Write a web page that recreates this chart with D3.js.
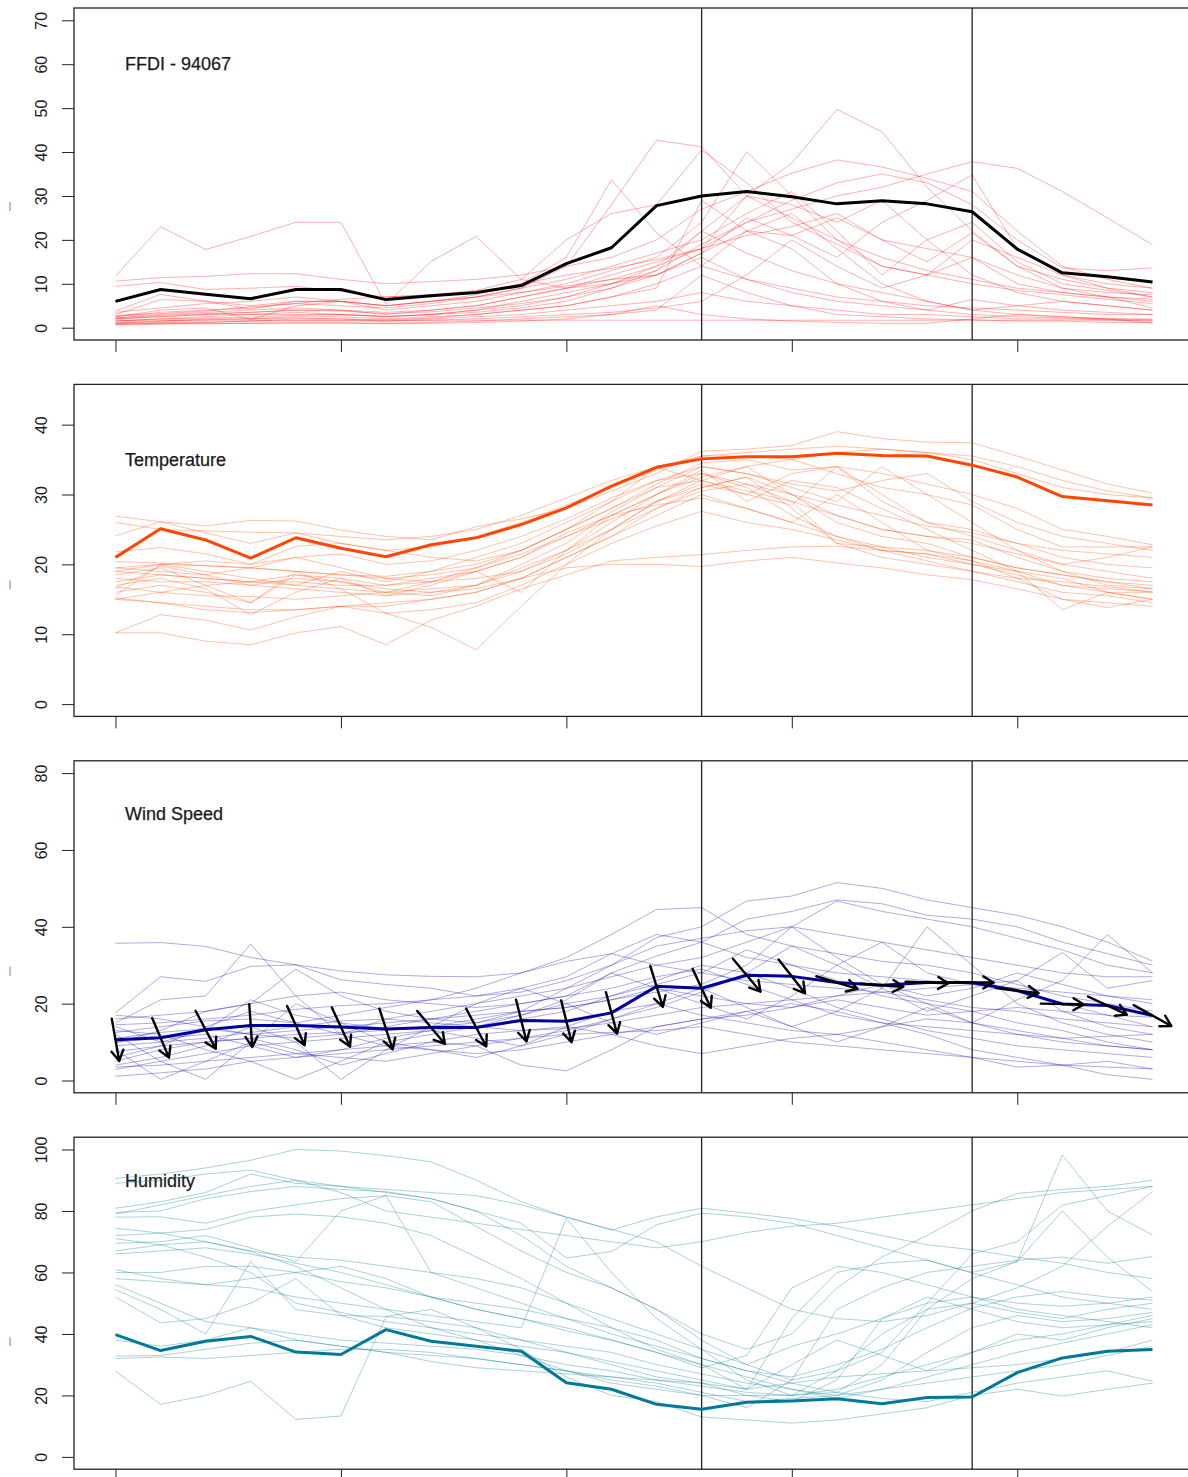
<!DOCTYPE html>
<html><head><meta charset="utf-8">
<script src="https://cdn.jsdelivr.net/npm/d3@7"></script>
<style>
html,body{margin:0;padding:0;background:#fff;}
svg{display:block;font-family:"Liberation Sans",Arial,sans-serif;}
</style></head>
<body><svg id="chart" width="1188" height="1477"></svg>
<script>
// ---------------- DATA ----------------
const steps = [0,1,2,3,4,5,6,7,8,9,10,11,12,13,14,15,16,17,18,19,20,21,22,23];
const xTicks = [0,5,10,15,20];
const markerSteps = [13,19];

const panelTitles = ["FFDI - 94067","Temperature","Wind Speed","Humidity"];
const yLimits = [[0,70],[0,44],[0,80],[0,100]];
const yTickValues = [[0,10,20,30,40,50,60,70],[0,10,20,30,40],[0,20,40,60,80],[0,20,40,60,80,100]];

const ffdiMain = [6.0,8.7,7.6,6.6,8.7,8.7,6.4,7.3,8.0,9.6,14.6,18.2,27.8,30.0,31.0,29.8,28.2,28.9,28.2,26.4,17.9,12.5,11.6,10.4];
const tempMain = [21.0,25.1,23.5,20.9,23.8,22.3,21.1,22.8,23.8,25.7,28.1,31.2,33.9,35.1,35.4,35.4,35.9,35.6,35.5,34.2,32.5,29.7,29.1,28.5];
const windMain = [10.6,11.1,13.2,14.3,14.3,13.9,13.4,13.8,13.8,15.6,15.4,17.6,24.5,24.0,27.4,27.1,25.5,24.8,25.5,25.5,23.4,19.9,19.5,16.9];
const humMain  = [39.8,34.6,37.6,39.2,34.1,33.3,41.4,37.6,36.0,34.4,24.1,22.0,17.1,15.5,17.8,18.2,18.9,17.3,19.3,19.5,27.4,32.2,34.4,34.9];
// wind direction (degrees, direction the wind blows from)
const windDir = [350,337,332,356,336,335,342,320,332,346,346,345,343,335,320,322,287,274,272,270,277,271,295,299];

const ffdiMembers = [
[11.7,23.0,17.8,20.8,24.0,24.0,5.3,15.1,20.8,11.0,9.0,10.0,12.0,17.0,22.0,21.0,25.0,20.0,18.0,16.0,10.0,8.0,7.0,6.0],
[10.6,11.4,11.7,12.3,12.3,11.0,10.0,10.5,11.0,12.0,14.0,16.0,20.0,27.0,31.0,35.2,38.2,36.6,34.0,31.0,22.0,14.0,11.0,9.0],
[9.4,10.3,8.7,9.0,9.4,8.3,7.0,7.5,8.5,11.0,20.0,26.0,28.0,40.5,33.0,24.0,19.0,14.0,12.0,10.0,8.5,7.5,6.5,5.5],
[3.8,7.6,6.0,4.2,6.0,6.0,5.0,6.0,7.0,9.0,14.0,28.0,42.7,41.2,30.0,25.0,20.0,16.0,13.0,11.0,9.0,8.0,7.0,6.5],
[3.0,6.4,6.0,5.0,6.0,6.0,5.0,6.0,7.5,10.0,16.0,33.7,21.6,14.0,11.0,9.0,7.0,6.0,5.0,4.5,4.0,3.5,3.0,3.0],
[2.5,4.0,4.5,1.9,5.0,6.0,4.0,5.0,6.0,8.0,10.0,13.0,16.0,24.0,40.1,30.0,20.0,14.0,12.0,20.0,16.0,12.0,9.0,7.0],
[2.2,3.0,3.5,4.0,4.5,4.0,3.0,4.0,5.0,7.0,9.0,12.0,15.0,18.0,24.0,29.0,33.0,35.0,33.0,28.0,20.0,13.6,13.0,13.6],
[2.0,2.5,3.0,3.0,3.5,3.0,2.5,3.0,4.0,6.0,8.0,10.0,13.0,22.0,30.0,37.5,49.7,44.6,32.0,22.0,14.0,11.0,9.0,8.0],
[1.5,2.0,2.5,3.0,3.0,3.0,2.5,3.0,4.0,5.0,7.0,9.0,13.0,19.0,24.0,27.0,30.0,32.0,35.0,37.8,36.3,31.0,25.0,18.9],
[1.7,1.7,1.7,1.7,1.7,1.7,1.7,1.7,1.7,1.7,1.7,1.7,1.7,1.7,1.7,1.7,1.7,1.7,1.7,1.7,1.7,1.7,1.7,1.7],
[1.0,1.5,2.0,2.0,2.5,2.5,2.0,2.5,3.0,4.0,5.0,7.0,10.0,14.0,22.0,26.0,18.0,10.0,6.0,4.0,3.0,2.5,2.0,2.0],
[0.8,1.0,1.2,1.5,2.0,2.0,1.5,2.0,2.5,3.0,4.0,5.0,6.0,8.0,6.0,5.0,4.0,3.0,3.0,2.5,2.0,2.0,1.8,1.5],
[0.8,1.0,1.0,1.0,1.2,1.2,1.0,1.2,1.5,2.0,2.5,3.0,4.0,12.0,8.0,5.0,3.0,2.5,2.0,1.8,1.5,1.5,1.2,1.2],
[2.5,3.5,4.0,4.5,5.5,5.0,4.5,5.5,7.0,9.0,11.0,14.0,17.0,20.0,26.0,31.0,22.0,12.0,20.0,24.0,15.0,10.0,8.5,7.0],
[2.0,2.5,3.0,3.5,4.0,4.0,3.5,4.0,5.0,7.0,9.0,11.0,12.0,17.0,25.0,21.0,16.0,24.0,29.0,34.8,18.0,12.0,10.0,9.0],
[3.5,4.5,5.5,6.0,7.0,6.0,5.0,6.0,7.0,8.0,9.5,11.0,14.0,22.0,17.0,13.0,10.0,8.0,6.0,4.0,5.0,6.0,5.0,4.0],
[1.2,1.5,1.8,2.0,2.2,2.0,1.8,2.2,3.0,4.0,5.0,7.0,9.0,29.0,22.0,18.0,10.0,6.0,4.0,3.0,2.5,2.2,2.0,1.8],
[1.0,1.2,1.3,1.5,1.6,1.6,1.5,1.7,2.0,2.5,3.0,3.5,4.5,6.0,12.0,20.0,14.0,9.0,12.0,16.0,12.0,9.0,7.0,4.5],
[0.6,0.8,0.9,1.0,1.0,1.0,0.9,1.0,1.2,1.5,2.0,3.0,5.0,3.0,2.0,1.5,1.2,1.0,1.0,2.0,3.0,2.5,2.0,1.0],
[2.8,3.2,3.8,4.8,5.5,6.5,7.0,7.5,8.0,10.0,12.0,13.5,15.5,18.0,21.0,23.0,26.0,20.0,15.0,21.6,14.0,9.0,8.0,7.5],
[1.5,2.0,2.2,2.4,2.8,3.0,2.6,3.0,3.5,4.5,6.0,9.0,12.0,16.0,11.0,8.0,6.0,5.0,4.0,6.4,5.0,4.0,3.5,3.0],
[2.2,2.8,3.2,3.5,4.0,3.8,3.2,3.6,4.5,5.5,7.0,10.0,14.0,18.0,30.0,28.0,24.0,29.0,20.0,12.0,8.0,6.0,5.0,4.0]
];

const tempMembers = [
[26.9,26.1,25.5,26.3,26.2,24.9,24.0,23.5,25.4,26.5,28.0,30.5,33.0,36.2,36.5,37.0,39.0,38.0,37.5,37.4,35.5,33.5,31.5,30.2],
[24.1,26.1,24.5,23.0,24.5,23.0,22.0,22.5,24.0,26.0,28.5,31.0,33.5,35.5,36.0,36.5,36.9,36.5,36.0,35.5,34.0,32.0,30.5,29.5],
[21.8,22.4,21.5,20.0,22.6,23.0,22.0,21.0,20.5,22.0,25.0,28.0,31.5,34.5,35.0,33.5,34.0,33.0,31.5,30.0,28.0,25.0,24.0,22.8],
[20.4,20.2,19.8,19.5,19.0,18.5,18.3,19.0,20.0,22.0,25.0,29.0,33.9,32.0,30.0,33.0,34.0,30.0,26.0,24.0,22.0,20.0,21.0,22.5],
[19.5,20.0,19.8,19.5,19.0,18.5,18.0,17.5,18.0,19.0,22.0,26.0,30.0,33.0,31.0,27.0,24.0,22.5,22.0,21.0,19.5,18.5,17.5,17.0],
[19.0,18.5,18.0,17.5,17.5,17.0,17.0,17.5,19.0,21.0,24.0,27.0,30.0,32.5,34.0,30.0,27.0,25.0,24.0,23.5,21.0,19.0,18.0,17.5],
[18.0,17.5,17.5,17.0,16.5,16.0,15.5,16.0,16.5,18.0,21.0,24.0,28.0,31.0,32.5,28.0,23.0,22.5,21.0,20.0,18.5,17.0,16.5,16.1],
[16.8,16.0,15.5,15.4,15.0,15.5,16.0,16.5,17.0,19.0,21.5,25.0,29.0,31.5,30.0,28.5,34.0,29.0,26.0,25.0,23.0,21.0,20.0,19.5],
[15.2,14.5,14.0,13.5,13.5,14.0,14.5,15.0,16.0,18.0,21.0,24.0,27.0,30.0,28.0,26.0,24.0,22.0,21.5,20.0,19.0,18.0,16.0,15.0],
[10.2,12.8,12.0,10.6,12.5,14.0,13.0,13.5,14.5,17.0,20.0,23.0,25.5,27.6,26.0,25.0,23.5,22.0,20.5,19.0,17.5,16.0,15.5,14.5],
[10.2,10.2,9.0,8.5,10.2,11.1,8.5,12.0,14.0,16.5,18.5,20.5,21.0,21.4,22.0,22.5,22.6,22.0,21.5,20.5,19.0,17.0,16.0,15.0],
[15.0,14.5,13.5,13.1,13.5,14.0,14.0,15.0,16.0,18.0,19.5,20.0,20.0,19.7,20.5,21.0,20.2,19.5,18.5,17.8,16.5,15.0,14.5,14.0],
[18.5,19.5,17.0,14.5,19.0,16.5,13.0,11.0,7.8,14.0,20.0,25.0,29.0,32.0,30.5,29.0,27.0,25.0,24.0,23.0,21.5,20.0,19.0,18.0],
[17.0,18.0,16.5,12.8,16.0,18.0,15.5,17.0,19.0,16.0,22.0,27.0,30.0,33.5,29.0,32.0,31.0,28.0,25.0,22.0,19.0,13.5,16.0,16.0],
[16.0,17.0,16.0,14.5,18.5,17.5,16.0,15.5,17.0,20.0,23.0,27.5,31.0,34.0,33.0,31.0,29.0,34.0,30.0,26.0,22.0,19.0,17.0,16.5],
[15.5,20.0,19.0,18.0,17.0,19.0,17.5,19.0,21.0,23.0,26.0,29.0,32.0,33.0,31.5,30.0,28.5,27.0,25.5,24.5,23.0,22.0,21.5,21.0],
[19.5,19.0,18.5,19.5,21.0,19.5,18.0,18.5,19.5,22.0,25.0,28.0,31.0,32.0,34.0,35.0,33.0,31.0,30.0,28.5,25.0,22.5,22.5,22.5],
[17.5,18.5,18.0,17.5,18.5,18.0,17.0,18.0,19.0,21.0,24.5,27.0,28.5,29.5,28.0,26.0,30.0,26.0,22.0,20.5,18.0,15.0,13.8,15.0],
[26.0,25.0,24.8,24.6,24.5,24.0,23.5,24.0,25.0,27.0,29.5,32.0,34.0,35.5,35.5,35.0,36.0,36.5,36.0,35.0,33.0,31.0,30.0,29.5],
[15.0,16.0,17.0,17.5,17.0,16.5,16.0,17.5,19.5,21.5,24.0,26.5,29.0,31.0,32.5,30.0,26.0,24.0,23.0,21.0,19.5,18.5,17.5,16.5],
[16.5,19.8,18.5,17.0,18.0,17.5,16.5,16.0,17.0,19.5,22.0,25.0,28.0,30.5,31.5,29.0,23.0,21.0,20.0,19.0,18.0,17.5,16.8,16.0],
[19.0,20.0,20.5,20.0,21.0,21.5,20.0,20.5,22.0,24.0,26.5,29.5,32.0,34.0,33.0,31.5,30.5,32.0,33.0,29.0,26.0,24.0,23.0,22.0]
];

const windMembers = [
[35.7,35.9,34.9,32.0,30.1,28.5,27.5,27.1,27.0,28.0,32.0,38.0,44.5,45.0,38.0,35.0,33.0,31.0,30.0,28.0,25.0,22.0,20.0,18.0],
[17.6,27.0,25.8,29.7,30.1,26.2,25.0,24.0,22.0,23.0,26.0,30.0,37.2,40.0,46.7,48.0,51.5,50.0,47.0,45.0,43.0,40.0,36.0,31.1],
[15.0,21.0,22.0,35.5,22.0,12.0,16.0,18.0,20.0,22.0,24.0,27.0,30.0,32.0,36.0,40.0,46.7,44.0,42.0,40.0,37.0,34.0,30.0,28.0],
[9.8,13.0,18.0,20.0,29.0,22.0,18.0,16.0,15.0,17.0,20.0,22.0,26.0,30.0,28.0,35.0,30.0,36.0,28.0,25.0,26.0,33.3,24.0,26.0],
[14.0,10.0,13.0,21.0,17.0,15.0,13.5,14.0,16.0,18.0,19.0,21.0,24.0,22.0,20.0,19.0,21.0,19.0,17.0,18.0,19.0,18.0,17.0,16.5],
[5.0,8.0,10.0,11.0,12.0,12.5,13.0,14.0,15.0,18.0,24.0,30.0,35.0,37.0,39.0,40.0,38.0,36.0,34.0,32.0,30.0,28.0,27.0,27.0],
[2.9,5.0,7.0,9.0,10.0,11.0,12.0,13.0,14.0,16.0,18.0,22.0,25.0,28.0,34.0,30.0,26.0,22.0,20.0,18.0,15.0,13.0,10.0,8.0],
[1.1,2.0,3.0,5.0,6.0,7.0,8.0,9.0,10.0,11.0,12.0,12.5,13.0,14.0,12.0,10.0,9.0,8.0,7.0,6.0,5.0,4.0,3.5,3.0],
[12.0,5.0,0.3,10.0,20.0,15.0,10.0,12.0,14.0,17.0,21.0,28.0,24.0,20.0,16.0,22.0,30.0,24.0,18.0,22.0,26.0,18.0,14.0,12.0],
[8.0,0.3,5.0,10.0,7.0,6.0,5.0,7.0,9.0,11.0,13.0,16.0,19.0,23.0,28.0,24.0,19.0,16.0,13.0,11.0,9.0,8.0,7.0,6.0],
[16.0,17.0,18.0,20.0,22.0,23.0,21.0,20.0,19.0,20.0,22.0,28.0,32.4,36.0,42.0,44.0,47.0,46.0,43.0,42.0,40.0,36.0,33.0,30.0],
[13.0,12.0,8.0,5.0,0.3,5.0,10.0,8.0,6.0,9.0,14.0,18.0,20.0,17.0,15.0,13.0,12.0,14.0,16.0,15.0,13.0,11.0,9.0,8.0],
[4.0,6.0,9.0,14.0,10.0,0.3,8.0,14.0,20.0,24.0,20.0,15.0,12.0,15.0,18.0,14.0,10.0,14.0,19.0,15.0,12.0,10.0,9.0,8.0],
[17.0,16.0,14.0,12.0,13.0,14.0,15.0,16.0,17.0,18.0,19.0,21.0,23.0,25.0,30.0,40.0,32.0,25.0,22.0,24.0,28.0,25.0,22.0,20.0],
[10.0,11.0,12.0,9.0,6.0,8.0,11.0,13.0,11.0,9.0,12.0,16.0,20.0,24.0,19.0,14.0,18.0,24.0,40.0,30.0,20.0,15.0,12.0,10.0],
[6.0,9.0,14.0,18.0,15.0,12.0,9.0,10.0,12.0,13.0,14.0,12.0,9.0,7.0,9.0,11.0,12.0,10.0,8.0,6.0,3.5,4.0,5.0,3.0],
[14.5,15.0,16.0,17.0,18.5,19.5,20.0,21.0,22.0,24.0,27.0,33.0,38.0,36.0,32.0,30.0,28.0,27.0,26.0,25.0,24.0,23.0,22.0,21.0],
[11.0,12.5,13.5,12.0,11.0,12.0,14.0,16.0,18.0,20.0,22.0,24.0,27.0,29.0,25.0,21.0,17.0,15.0,14.0,13.0,12.0,11.0,11.5,12.0],
[7.5,9.0,10.0,11.0,8.0,4.0,7.0,10.0,9.0,4.0,2.5,8.0,14.0,16.0,17.0,19.0,22.0,25.0,20.0,15.0,21.0,26.0,38.0,28.0],
[3.5,4.0,5.0,6.0,7.0,8.0,9.0,8.0,7.0,8.0,10.0,12.0,14.0,16.0,18.0,20.0,18.0,15.0,12.0,8.0,6.0,4.0,1.5,0.3],
[12.5,14.0,15.5,16.0,15.0,17.0,19.0,21.0,24.0,28.0,31.0,33.0,30.0,28.0,26.0,25.0,24.0,23.0,24.0,25.0,23.0,20.0,17.0,14.0],
[9.0,10.0,11.0,12.5,14.0,15.5,16.0,15.0,14.0,13.0,13.5,15.0,17.0,19.0,20.0,21.0,22.0,23.0,21.0,19.0,18.0,16.0,15.0,14.0]
];

const humMembers = [
[90.6,92.0,94.0,96.5,100.0,99.5,98.0,96.0,90.0,83.0,78.0,73.8,78.1,80.9,79.3,77.6,75.0,72.0,69.0,67.4,65.0,63.0,60.0,58.0],
[89.0,90.0,92.0,93.3,90.0,88.0,86.0,84.0,80.0,76.0,64.7,66.8,75.5,79.3,78.1,76.0,72.0,68.0,64.0,59.8,56.0,52.0,50.0,48.0],
[80.9,83.0,86.0,92.0,89.0,88.0,87.0,86.0,85.0,82.0,78.0,74.0,70.0,62.0,55.0,48.0,45.0,44.0,46.0,50.0,55.0,62.0,75.0,86.3],
[79.5,80.0,84.0,86.3,88.0,87.0,86.3,84.0,80.0,72.0,62.0,55.0,48.0,40.0,35.0,40.0,55.0,65.0,72.0,80.0,85.7,87.0,88.0,90.0],
[78.0,78.1,76.0,79.8,82.0,84.0,85.0,83.0,75.0,67.0,60.0,55.0,48.0,38.0,30.0,25.0,28.0,34.0,50.0,66.0,70.0,81.9,85.0,88.0],
[74.4,72.8,74.0,78.0,79.0,78.1,76.0,72.0,65.0,58.0,50.0,42.0,35.0,30.0,22.0,45.0,60.0,63.0,64.0,60.0,63.6,98.2,80.0,72.2],
[72.0,72.8,70.0,66.8,62.0,55.0,48.0,42.0,38.0,33.0,28.0,24.0,22.0,20.0,16.0,25.0,48.0,55.0,60.0,62.0,64.0,65.0,63.0,65.2],
[69.5,70.0,72.0,68.0,63.6,80.0,85.0,60.0,55.0,50.0,45.0,40.0,36.0,32.0,28.0,24.0,21.0,30.0,48.0,58.0,63.6,80.0,65.0,53.8],
[67.0,69.0,70.0,67.0,65.0,64.0,62.0,60.0,58.0,55.0,50.0,45.0,40.0,35.0,30.0,36.0,40.0,45.0,50.0,52.0,50.0,49.0,50.0,52.0],
[60.9,58.0,56.0,55.0,52.0,50.0,48.0,46.0,44.0,42.0,77.6,60.0,45.0,35.0,25.0,20.0,28.0,40.0,48.0,50.0,47.0,45.0,48.0,50.0],
[60.0,60.0,62.0,62.0,60.0,57.0,55.0,52.0,50.0,48.0,45.0,42.0,38.0,32.0,28.0,26.0,30.0,35.0,42.0,48.4,52.0,53.8,52.0,51.0],
[58.0,57.0,56.0,58.0,60.0,62.0,58.0,52.0,48.0,45.0,42.0,38.0,34.0,30.0,26.0,22.0,20.0,25.0,34.0,42.0,46.0,44.0,45.0,47.0],
[54.4,48.0,40.0,63.6,47.9,46.0,45.7,44.0,42.0,38.0,34.0,30.0,26.0,24.0,20.0,18.0,25.0,45.0,52.0,48.0,44.0,42.0,43.0,46.0],
[52.0,43.6,45.0,50.0,58.0,46.0,42.0,40.0,38.0,36.0,34.0,31.0,28.0,25.0,22.0,30.0,38.0,33.0,28.0,34.0,40.0,38.0,42.0,45.0],
[38.0,36.0,38.0,42.0,40.0,38.0,37.0,36.0,35.0,33.0,30.0,28.0,25.0,23.0,21.0,20.0,22.0,26.0,30.0,34.0,38.0,40.0,43.0,44.0],
[32.8,33.0,35.0,37.0,38.0,36.0,34.0,33.0,32.0,30.0,28.0,26.0,24.0,21.0,18.0,19.0,20.0,22.0,24.0,26.0,28.0,30.0,33.0,36.0],
[32.0,32.5,32.0,33.0,34.0,35.0,35.0,34.0,32.0,30.0,28.0,25.0,23.0,20.0,20.0,20.0,21.0,19.0,18.0,21.0,24.0,26.0,28.0,24.6],
[27.9,17.1,20.0,24.6,12.2,13.3,45.7,48.0,42.0,35.0,26.0,20.0,18.0,13.0,12.0,11.0,12.0,14.0,16.0,20.0,22.0,19.8,22.0,24.0],
[71.0,69.0,65.0,60.0,50.0,47.0,44.0,42.0,40.0,38.0,36.0,34.0,30.0,27.0,24.0,22.0,19.0,22.0,26.0,30.0,34.0,37.0,40.0,43.0],
[66.0,67.0,68.0,66.0,63.0,60.0,56.0,52.0,48.0,45.0,41.0,38.0,34.0,29.0,33.0,55.0,62.0,60.0,56.0,52.0,48.0,46.0,44.0,42.0],
[56.0,50.0,44.0,42.0,38.0,36.0,34.0,31.0,29.0,28.0,27.0,26.0,25.0,24.0,22.0,24.0,26.0,27.0,28.0,29.0,30.0,32.0,34.0,38.0],
[79.0,82.0,85.0,88.0,90.0,86.0,80.0,78.0,76.0,74.0,72.0,70.0,68.0,70.0,73.0,75.0,76.0,78.0,80.0,82.0,84.0,86.0,87.0,88.0]
];

const windArrowLength = 43;

// ---------------- DRAW ----------------
const svg = d3.select("#chart");
const W = 1188;
const boxLeft = 74, boxRight = 1194, boxH = 332;
const panelTops = [8, 384.4, 760.8, 1137.2];

const x = d3.scaleLinear().domain([-0.92, 23.92]).range([boxLeft, boxRight]);

const panels = [
  {members: ffdiMembers, main: ffdiMain, thin: "rgba(255,0,0,0.31)", thick: "#000000"},
  {members: tempMembers, main: tempMain, thin: "rgba(255,69,0,0.33)", thick: "#ff4500"},
  {members: windMembers, main: windMain, thin: "rgba(0,0,170,0.33)", thick: "#0000a0"},
  {members: humMembers, main: humMain, thin: "rgba(0,120,150,0.34)", thick: "#00789a"}
];

svg.append("rect").attr("width", W).attr("height", 1477).attr("fill", "#fff");

panels.forEach((p, i) => {
  const top = panelTops[i], bottom = top + boxH;
  const [y0, y1] = yLimits[i];
  const ext = 0.04 * (y1 - y0);
  const y = d3.scaleLinear().domain([y0 - ext, y1 + ext]).range([bottom, top]);
  const g = svg.append("g");

  // title (drawn under the lines)
  g.append("text").attr("x", 125)
    .attr("y", top + [62, 82, 59, 50][i])
    .attr("font-size", 18).attr("fill", "#1a1a1a")
    .attr("stroke", "#1a1a1a").attr("stroke-width", 0.25)
    .text(panelTitles[i]);

  const line = d3.line().x((d, k) => x(steps[k])).y(d => y(d));

  g.append("g").selectAll("path").data(p.members).join("path")
    .attr("d", line).attr("fill", "none").attr("stroke", p.thin).attr("stroke-width", 1);

  // vertical marker lines
  g.selectAll("line.mk").data(markerSteps).join("line")
    .attr("x1", d => x(d)).attr("x2", d => x(d)).attr("y1", top).attr("y2", bottom)
    .attr("stroke", "#222").attr("stroke-width", 1.3);

  g.append("path").datum(p.main).attr("d", line).attr("fill", "none")
    .attr("stroke", p.thick).attr("stroke-width", 3).attr("stroke-linejoin", "round");

  if (i === 2) {
    const L = windArrowLength, head = 12, ang = Math.PI / 6;
    const ag = g.append("g").attr("stroke", "#000").attr("stroke-width", 2.4).attr("fill", "none")
      .attr("stroke-linecap", "round").attr("stroke-linejoin", "round");
    windDir.forEach((dir, k) => {
      const b = (dir + 180) * Math.PI / 180;
      const dx = L * Math.sin(b), dy = -L * Math.cos(b);
      const cx = x(steps[k]), cy = y(windMain[k]);
      const x1 = cx - dx / 2, y1p = cy - dy / 2, x2 = cx + dx / 2, y2 = cy + dy / 2;
      const th = Math.atan2(dy, dx);
      const hx1 = x2 - head * Math.cos(th - ang), hy1 = y2 - head * Math.sin(th - ang);
      const hx2 = x2 - head * Math.cos(th + ang), hy2 = y2 - head * Math.sin(th + ang);
      ag.append("path").attr("d", `M${x1},${y1p}L${x2},${y2}M${hx1},${hy1}L${x2},${y2}L${hx2},${hy2}`);
    });
  }

  // y axis
  const ya = g.append("g").attr("transform", `translate(${boxLeft},0)`)
    .call(d3.axisLeft(y).tickValues(yTickValues[i]).tickSize(12).tickFormat(d3.format("d")));
  ya.select(".domain").remove();
  ya.selectAll(".tick line").attr("stroke", "#222");
  ya.selectAll(".tick text").attr("x", null).attr("dy", null)
    .attr("transform", "translate(-27.5,0) rotate(-90)")
    .attr("text-anchor", "middle").attr("font-size", 16)
    .attr("font-family", "'Liberation Sans', Arial, sans-serif").attr("fill", "#1a1a1a");

  // x axis
  const xa = g.append("g").attr("transform", `translate(0,${bottom})`)
    .call(d3.axisBottom(x).tickValues(xTicks).tickSize(12).tickFormat(""));
  xa.select(".domain").remove();
  xa.selectAll(".tick line").attr("stroke", "#222");

  // box
  g.append("rect").attr("x", boxLeft).attr("y", top).attr("width", boxRight - boxLeft).attr("height", boxH)
    .attr("fill", "none").attr("stroke", "#222").attr("stroke-width", 1.3);

  // small cropped-margin mark
  g.append("rect").attr("x", 9).attr("y", top + [194, 196, 206, 200][i]).attr("width", 2).attr("height", 9)
    .attr("fill", "#a9c4dc");
});
</script></body></html>
